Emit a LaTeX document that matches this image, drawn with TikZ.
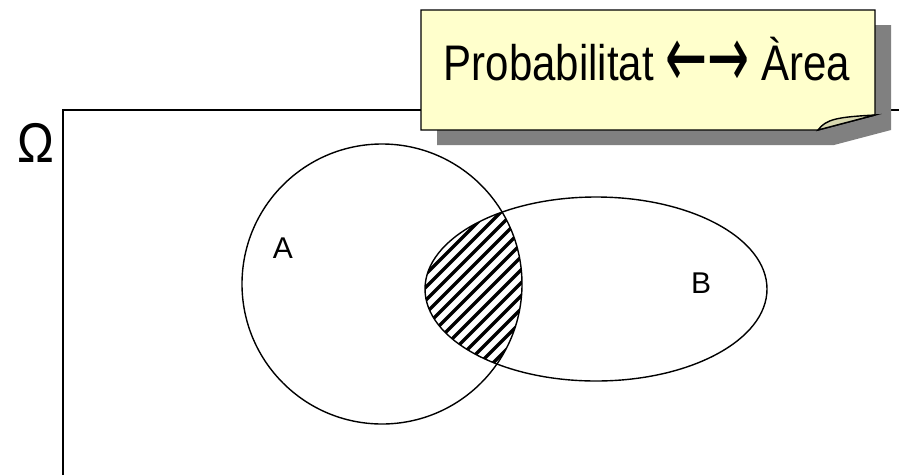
\documentclass[tikz,border=0pt]{standalone}
\usepackage{fontspec}
\setmainfont{Liberation Sans}
\newfontfamily\arrowfont{DejaVu Sans}
\definecolor{noteyellow}{HTML}{FFFFCC}
\definecolor{foldtan}{HTML}{D8D8B0}
\definecolor{shadowgray}{HTML}{808080}
\begin{document}
\begin{tikzpicture}[x=1pt,y=-1pt,line width=1.4pt,
  lbl/.style={inner sep=0pt,font=\fontsize{30}{36}\selectfont},
  hatchline/.style={line width=3.4pt}]
\useasboundingbox (0,0) rectangle (899,475);
% universe frame
\coordinate (fb) at (63,475);
\coordinate (fc) at (63,110);
\coordinate (fr) at (899,110);
\draw (fb) -- (fc) -- (fr);
\node[anchor=base, inner sep=0pt, font=\fontsize{56}{60}\selectfont] (omega) at (36,162) {\scalebox{0.88}[1]{Ω}};
% sets
\coordinate (ca) at (382,284);
\coordinate (cb) at (596,289);
\begin{scope}
  \clip (ca) circle[radius=140];
  \clip (cb) ellipse[x radius=171, y radius=92];
  \foreach \k in {0,...,40} \draw[hatchline] (150+\k*13,420) -- ++(300,-300);
\end{scope}
\draw (ca) circle[radius=140];
\draw (cb) ellipse[x radius=171, y radius=92];
\node[lbl, anchor=base] (la) at (283,258) {A};
\node[lbl, anchor=base] (lb) at (701,293) {B};
% note
\fill[shadowgray] (437,25) -- (891,25) -- (891,130) -- (834,145) -- (437,145) -- cycle;
\draw[fill=noteyellow] (421,10) -- (875,10) -- (875,115) -- (818,130) -- (421,130) -- cycle;
\draw[fill=foldtan] (818,130) .. controls (826,119) and (838,117) .. (875,115) -- cycle;
\node[anchor=base west, inner sep=0pt, font=\fontsize{50}{60}\selectfont] (note) at (443,80) {\scalebox{0.84}[1]{Probabilitat {\arrowfont\fontsize{52}{60}\selectfont\raisebox{-7pt}{\scalebox{1.15}[1.7]{←→}}} Àrea}};
\end{tikzpicture}
\end{document}
